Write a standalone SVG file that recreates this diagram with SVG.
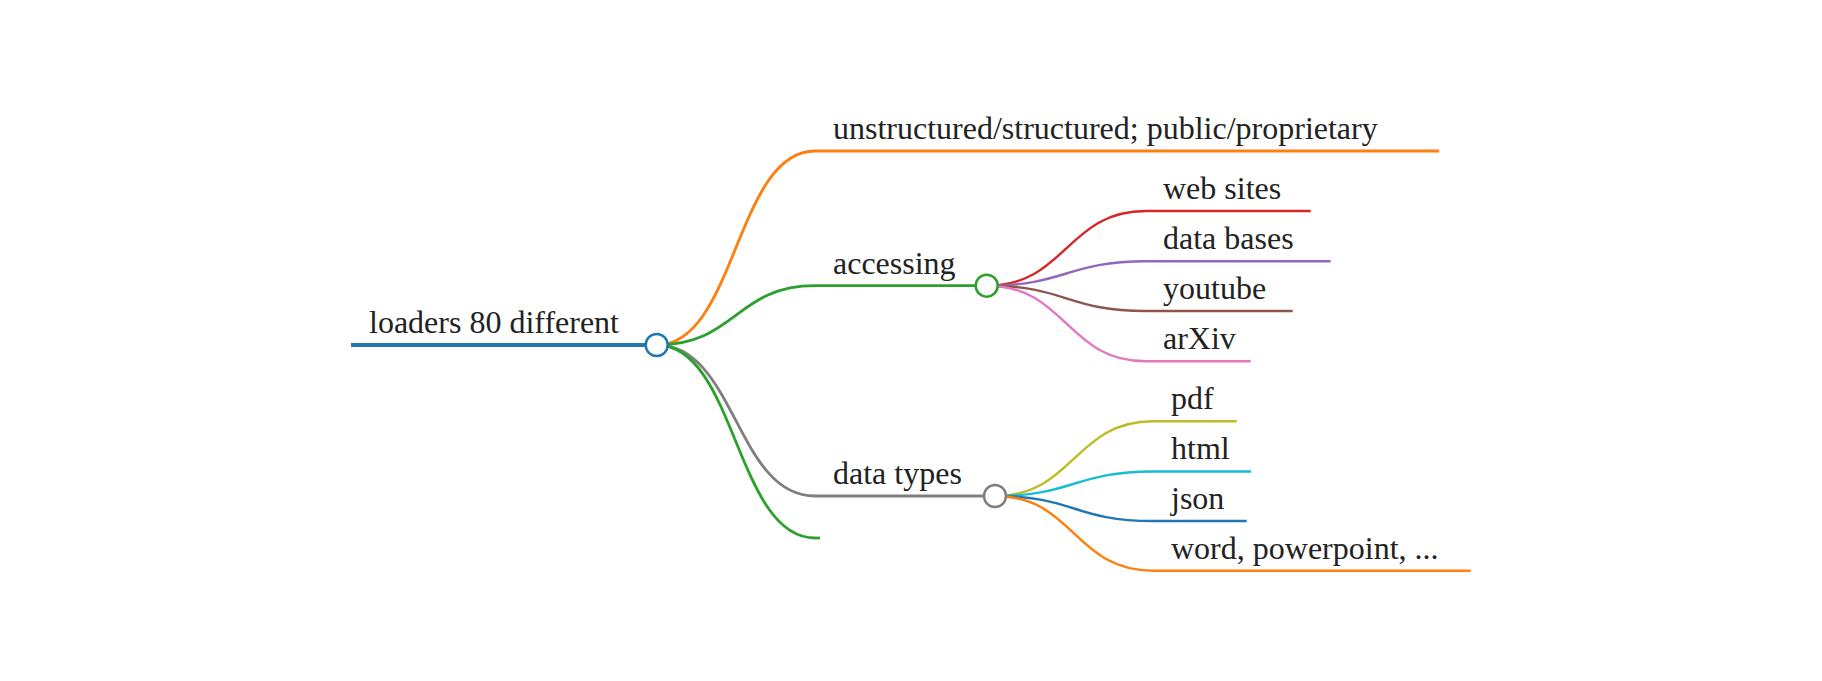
<svg xmlns="http://www.w3.org/2000/svg" width="1822" height="681" viewBox="0 0 1822 681">
<style>
  text { font-family: "Liberation Serif", "Times New Roman", serif; font-size: 32px; fill: #222; }
  .link { fill: none; }
  .d0 { stroke-width: 4; }
  .d1 { stroke-width: 2.8; }
  .d2 { stroke-width: 2.4; }
  circle { fill: #fff; stroke-width: 2.5; }
</style>
<rect width="1822" height="681" fill="#fff"/>
<g id="connectors">
  <path class="link d1" stroke="#ff7f0e" d="M656.7,345 C735.8,345 735.8,151 815,151"/>
  <path class="link d1" stroke="#2ca02c" d="M656.7,345 C735.8,345 735.8,285.7 815,285.7"/>
  <path class="link d1" stroke="#7f7f7f" d="M656.7,345 C735.8,345 735.8,496 815,496"/>
  <path class="link d1" stroke="#2ca02c" d="M656.7,345 C735.8,345 735.8,538 815,538"/>
  <path class="link d2" stroke="#d62728" d="M986.7,285.7 C1066.3,285.7 1066.3,211 1146,211"/>
  <path class="link d2" stroke="#9467bd" d="M986.7,285.7 C1066.3,285.7 1066.3,261.3 1146,261.3"/>
  <path class="link d2" stroke="#8c564b" d="M986.7,285.7 C1066.3,285.7 1066.3,311 1146,311"/>
  <path class="link d2" stroke="#e377c2" d="M986.7,285.7 C1066.3,285.7 1066.3,361.3 1146,361.3"/>
  <path class="link d2" stroke="#bcbd22" d="M995,496 C1074,496 1074,421.3 1153,421.3"/>
  <path class="link d2" stroke="#17becf" d="M995,496 C1074,496 1074,471.5 1153,471.5"/>
  <path class="link d2" stroke="#1f77b4" d="M995,496 C1074,496 1074,521 1153,521"/>
  <path class="link d2" stroke="#ff7f0e" d="M995,496 C1074,496 1074,570.7 1153,570.7"/>
</g>
<g id="node-root">
  <line class="d0" x1="351" y1="345" x2="656.7" y2="345" stroke="#1f77b4"/>
  <text x="369" y="333">loaders 80 different</text>
  <circle cx="656.7" cy="345" r="11" stroke="#1f77b4"/>
</g>
<g id="node-structure">
  <line class="d1" x1="815" y1="151" x2="1439" y2="151" stroke="#ff7f0e"/>
  <text x="833" y="139">unstructured/structured; public/proprietary</text>
</g>
<g id="node-accessing">
  <line class="d1" x1="815" y1="285.7" x2="986.7" y2="285.7" stroke="#2ca02c"/>
  <text x="833" y="273.5">accessing</text>
  <circle cx="986.7" cy="285.7" r="11" stroke="#2ca02c"/>
</g>
<g id="node-web-sites">
  <line class="d2" x1="1146" y1="211" x2="1310.7" y2="211" stroke="#d62728"/>
  <text x="1163" y="199">web sites</text>
</g>
<g id="node-data-bases">
  <line class="d2" x1="1146" y1="261.3" x2="1330.7" y2="261.3" stroke="#9467bd"/>
  <text x="1163" y="249">data bases</text>
</g>
<g id="node-youtube">
  <line class="d2" x1="1146" y1="311" x2="1292.7" y2="311" stroke="#8c564b"/>
  <text x="1163" y="299">youtube</text>
</g>
<g id="node-arxiv">
  <line class="d2" x1="1146" y1="361.3" x2="1250.7" y2="361.3" stroke="#e377c2"/>
  <text x="1163" y="349">arXiv</text>
</g>
<g id="node-data-types">
  <line class="d1" x1="815" y1="496" x2="995" y2="496" stroke="#7f7f7f"/>
  <text x="833" y="483.5">data types</text>
  <circle cx="995" cy="496" r="11" stroke="#7f7f7f"/>
</g>
<g id="node-pdf">
  <line class="d2" x1="1153" y1="421.3" x2="1236.7" y2="421.3" stroke="#bcbd22"/>
  <text x="1171" y="409">pdf</text>
</g>
<g id="node-html">
  <line class="d2" x1="1153" y1="471.5" x2="1251" y2="471.5" stroke="#17becf"/>
  <text x="1171" y="459">html</text>
</g>
<g id="node-json">
  <line class="d2" x1="1153" y1="521" x2="1246.7" y2="521" stroke="#1f77b4"/>
  <text x="1171" y="509">json</text>
</g>
<g id="node-word">
  <line class="d2" x1="1153" y1="570.7" x2="1470.7" y2="570.7" stroke="#ff7f0e"/>
  <text x="1171" y="558.5">word, powerpoint, ...</text>
</g>
<g id="node-empty">
  <line class="d1" x1="815" y1="538" x2="820" y2="538" stroke="#2ca02c"/>
</g>
</svg>
